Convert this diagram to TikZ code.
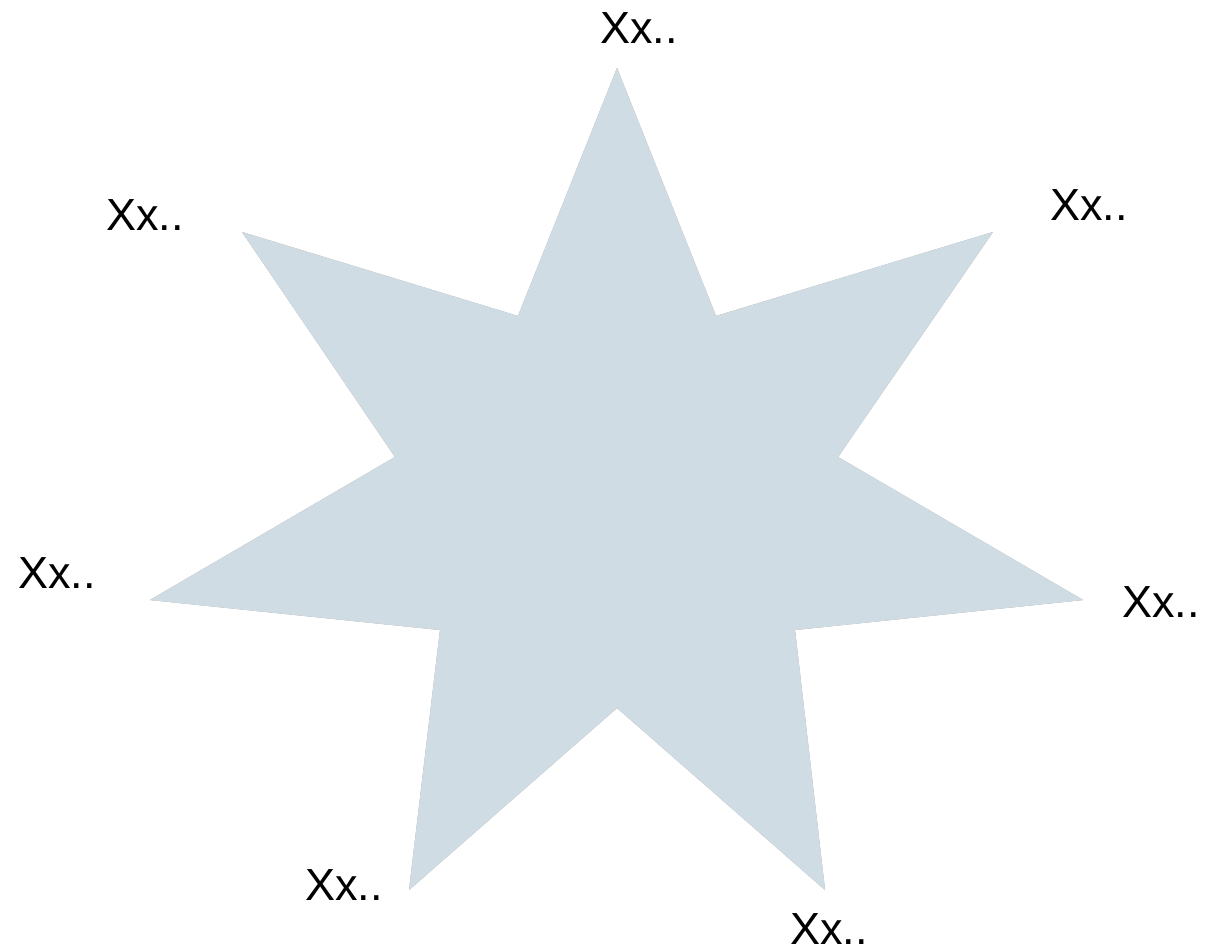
\documentclass[tikz,border=0pt]{standalone}
\usepackage{fontspec}
\setmainfont{Liberation Sans}
\definecolor{starfill}{HTML}{CFDCE4}
\tikzset{
  lbl/.style={inner sep=0pt, font=\fontsize{45}{50}\selectfont},
}
\begin{document}
\begin{tikzpicture}[x=1pt,y=-1pt]
\useasboundingbox (0,0) rectangle (1207,949);
\coordinate (p1) at (617,68);
\coordinate (i1) at (716,316);
\coordinate (p2) at (993,232);
\coordinate (i2) at (838,457);
\coordinate (p3) at (1083,600);
\coordinate (i3) at (795,630);
\coordinate (p4) at (825,890);
\coordinate (i4) at (617,708);
\coordinate (p5) at (409,890);
\coordinate (i5) at (440,630);
\coordinate (p6) at (150,600);
\coordinate (i6) at (395,457);
\coordinate (p7) at (242,232);
\coordinate (i7) at (518,316);
% soft shadow
\foreach \o/\c in {3.5/black!10, 2.5/black!18, 1.5/black!28}{
  \fill[\c, shift={(\o,\o)}] (p1) -- (i1) -- (p2) -- (i2) -- (p3) -- (i3) -- (p4) -- (i4) -- (p5) -- (i5) -- (p6) -- (i6) -- (p7) -- (i7) -- cycle;
}
\fill[starfill] (p1) -- (i1) -- (p2) -- (i2) -- (p3) -- (i3) -- (p4) -- (i4) -- (p5) -- (i5) -- (p6) -- (i6) -- (p7) -- (i7) -- cycle;
\node[lbl] (t1) at (639,28) {Xx..};
\node[lbl] (t2) at (1089,205) {Xx..};
\node[lbl] (t3) at (1161,602) {Xx..};
\node[lbl] (t4) at (829,929) {Xx..};
\node[lbl] (t5) at (344,885) {Xx..};
\node[lbl] (t6) at (57,573) {Xx..};
\node[lbl] (t7) at (145,215) {Xx..};
\end{tikzpicture}
\end{document}
